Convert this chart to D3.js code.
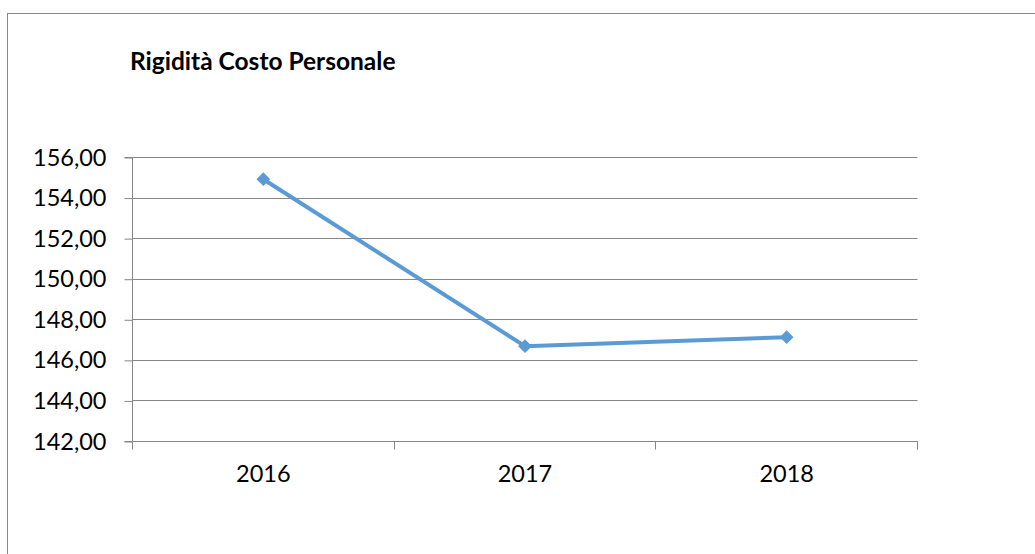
<!DOCTYPE html>
<html><head><meta charset="utf-8">
<script src="https://cdn.jsdelivr.net/npm/d3@7"></script>
<style>body{margin:0;background:#fff}svg{display:block}</style>
</head><body>
<svg id="c" width="1035" height="554"></svg>
<script>
const categories = ["2016", "2017", "2018"];
const values = [154.93, 146.70, 147.14];
const yTicks = [142, 144, 146, 148, 150, 152, 154, 156];
const title = "Rigidità Costo Personale";

(function () {
const svg = d3.select("#c");
const font = "Lato, 'Open Sans', sans-serif";
const pLeft = 132.5, pRight = 917.5, pTop = 157.5, pBottom = 441.5;

svg.append("rect").attr("x", 7.5).attr("y", 13.5).attr("width", 1100).attr("height", 600)
  .attr("fill", "none").attr("stroke", "#898989").attr("stroke-width", 1);

const x = d3.scaleBand().domain(categories).range([pLeft, pRight]);
const y = d3.scaleLinear().domain([142, 156]).range([pBottom, pTop]);

// gridlines
svg.append("g").selectAll("line").data(yTicks.filter(d => d !== 142)).join("line")
  .attr("x1", pLeft).attr("x2", pRight)
  .attr("y1", d => Math.round(y(d) - 0.5) + 0.5).attr("y2", d => Math.round(y(d) - 0.5) + 0.5)
  .attr("stroke", "#868686").attr("stroke-width", 1);

// y axis
const yAxis = d3.axisLeft(y).tickValues(yTicks).tickSize(8).tickPadding(18)
  .tickFormat(d => d3.format(".2f")(d).replace(".", ","));
const gy = svg.append("g").attr("transform", `translate(${pLeft},0)`).call(yAxis);
gy.select(".domain").attr("stroke", "#868686").attr("d", `M-8,${pBottom}H0V${pTop}H-8`);
gy.selectAll(".tick line").attr("stroke", "#868686");
gy.selectAll(".tick text").attr("font-family", font).attr("font-size", 23.5).attr("fill", "#000");

// x axis
const xAxis = d3.axisBottom(x).tickSize(0).tickPadding(24);
const gx = svg.append("g").attr("transform", `translate(0,${pBottom})`).call(xAxis);
gx.select(".domain").attr("stroke", "#868686").attr("d", `M${pLeft},0H${pRight}V8`);
gx.selectAll(".tick text").attr("font-family", font).attr("font-size", 23.5).attr("fill", "#000");
svg.append("g").selectAll("line").data(categories.concat([null])).join("line")
  .attr("x1", (d, i) => Math.round(pLeft + i * x.step() - 0.5) + 0.5)
  .attr("x2", (d, i) => Math.round(pLeft + i * x.step() - 0.5) + 0.5)
  .attr("y1", pBottom).attr("y2", pBottom + 8)
  .attr("stroke", "#868686");

// line
const line = d3.line().x((d, i) => x(categories[i]) + x.bandwidth() / 2).y(d => y(d));
svg.append("path").datum(values).attr("d", line)
  .attr("fill", "none").attr("stroke", "#5B9BD5").attr("stroke-width", 4).attr("stroke-linejoin", "round");

svg.append("g").selectAll("path").data(values).join("path")
  .attr("d", d3.symbol().type(d3.symbolDiamond2).size(120))
  .attr("transform", (d, i) => `translate(${x(categories[i]) + x.bandwidth() / 2},${y(d)})`)
  .attr("fill", "#5B9BD5");

// title
svg.append("text").attr("x", 130).attr("y", 70).text(title)
  .attr("font-family", font).attr("font-weight", "bold").attr("font-size", 24.5).attr("fill", "#000");
})();
</script>
</body></html>
